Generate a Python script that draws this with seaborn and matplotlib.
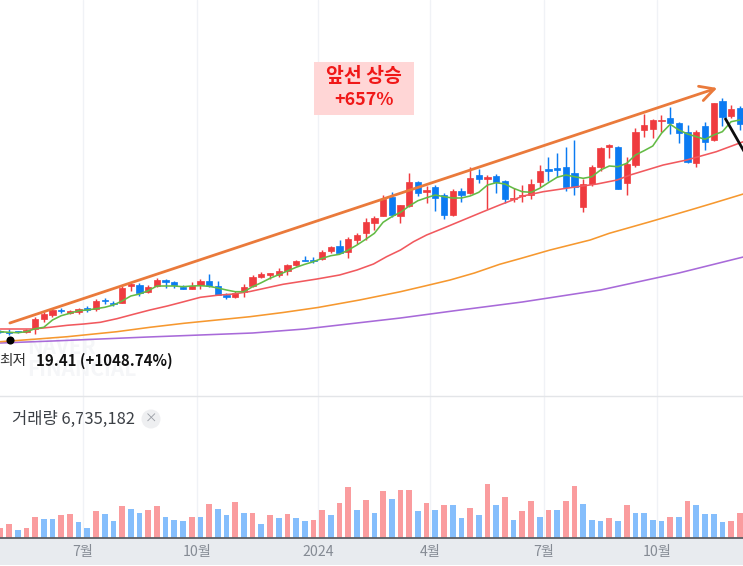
import numpy as np
import pandas as pd
import seaborn as sns
import matplotlib
matplotlib.use("Agg")
import matplotlib.pyplot as plt
from matplotlib.patches import Rectangle, Ellipse

# Weekly candles: opening, closing, high and low level of each week
opens = [69,67.7,68.7,68.3,70.7,81,85.3,90,87.3,88.3,91.7,91,100,97.3,96.7,114.3,115,108.3,114,120,117.7,112.7,111,115,118.7,114.3,104.7,103.3,108.3,
         114,123.3,125.3,124.7,128.7,135,139.7,140,140.7,149,154,147.7,160,167.3,177.3,184,202.7,184,194,217.7,207.7,213.3,205,185,209.3,206.7,224.7,220.7,
         224.3,218.7,201,203.7,205,218,230.7,231.7,232.7,227,192.7,216,232.7,253.3,252.7,216.7,234.7,270,271.3,279,282.3,276.7,268.3,236.7,274,260,299.3,284,292]
closes = [68,67,67.7,70,81,86.3,89.7,89,88.3,91,90,99.3,98.7,96,111.7,116,106.7,113.3,120,118.3,115,111.3,114.3,119,114.3,105.3,102.7,107.3,113.3,
          123.3,126.3,126.3,128.7,134.7,138.7,139,139,148.3,153,147.3,161,165.3,177.7,182.3,201,185,194.7,217.7,206.7,210,202.3,185,209,205,221.7,220.7,223.3,
          217.7,201,202,205,216,228.7,229.3,229.7,213.3,213.3,216,232.7,251.7,255.3,211,235.7,268,275.3,279.7,280,276.7,267.3,237.7,268.3,258.3,296.7,282.7,290.7,276]
highs = [70,70.7,69.5,70.7,83.3,88.3,91.7,92.3,90,92.3,94,100.7,101.7,98.7,114,117.3,116.7,114.7,122.3,120.7,119.3,115,117.7,120.7,126,119,106.7,109.3,115.7,
         125,127.7,127.3,131.7,135.7,140,144,143.3,149.7,154,159.7,163.3,166.7,181.7,184,205,207.7,195.3,227.3,219,214,215,206.7,211.3,212.3,233.3,231,224.7,
         226,220,211.7,214.7,220.7,235,242.7,246.7,252.7,260,221.3,235,252.7,256,254,242.7,272.3,286,281.3,285,293.3,278,275,270,278,297.3,301.7,295,294]
lows = [67,65,67,67.3,65.7,78.3,83.3,86.7,86,85.7,88.3,89.3,96,94,96.7,109,104,107.3,113.3,111.7,111.7,110.7,110.7,110.7,113.3,104.7,100.7,102.3,103.3,
        113.3,122.3,120.7,123.3,125,134,139,136.7,140,147.3,146.7,141.7,156,160,170,184,182.7,177.3,193.3,204,196.7,189.3,181.3,184,198.3,206,216.7,190.7,
        206.7,196.7,198.3,198.3,200.7,213.3,219.3,223.3,209.3,205,188.3,214,229,241.7,210.7,205,233.3,262.7,261.7,267.7,265.7,257.3,237.3,233.3,250,259,274,282.3,270]

# Short moving average, one value per week
ma5 = [68.3,67.7,67.3,68.3,71.3,72.7,80,84.3,86.7,89.3,90,91.3,92.7,95,99,104,106,109.3,114,114,114,113.3,114,114.3,113.7,112,110,108.3,108.3,
       113.3,117.3,121.7,125.3,129,132.7,135.7,138.3,141.7,144.3,145.7,150,155,160.7,166.7,177.7,183.3,187.7,194,199.3,202.3,205,203.3,202,202,204,207.7,215,217.3,
       216,211.7,208.3,207.7,211.7,217.3,222.7,225,223.3,221.7,223.3,230,234,233.3,236.7,245,249.3,254,266.7,275.7,270,266,263.3,260.7,265,268.3,278.3,280]

# Longer moving averages, sampled at the listed weeks
ma20_wk = [0,3.8,5.7,7.7,9.6,11.5,13.4,15.3,17.2,19.2,21.1,23,24.9,26.8,28.7,32.5,36.4,39,41,42.9,44.4,46,47.5,49,50.9,53.2,55.5,57.4,60.1,62.4,66.3,68.6,70.9,72.4,74.3,76.2,78.9,82.3,85.4]
ma20 = [71,71,72.7,74.7,76,77.7,81.3,85.7,90,94,98.3,102.7,104.7,106,108.5,115.7,121,125,130,136,143.3,150,158.3,165,171.7,180,188.3,195,204,208.3,213.3,216,220,225,230,235,240,248.3,258.3]
ma60_wk = [0,3.8,7.7,13.4,17.2,21.1,24.9,28.7,32.5,36.5,41.3,46,48.8,51.7,54.5,57.4,60,63.2,67.8,70,74.7,79.3,82,85.4]
ma60 = [58.3,60.7,63.3,68.3,72.7,76.7,80,83.3,87.5,92.5,100,108.3,114,120,127,135.7,142,150,160,166.7,178.3,190,197,206]
ma120_wk = [0,6,11.5,17,23,29,35,40,46,52,60,69,78,85.4]
ma120 = [57,59,61,63,65,67,71,76,82,89,98,110,127,143]

# Weekly traded volume
volume = [10,14,8,10,21,19,19,23,24,16,10,27,24,17,32,29,25,28,32,21,18,17,21,21,34,29,23,36,25,
          25,14,23,20,24,20,17,18,28,23,35,51,28,38,25,47,39,48,48,27,35,28,33,33,20,30,23,54,
          33,41,18,27,37,21,28,28,37,52,34,18,17,20,17,33,25,25,18,17,21,21,37,33,24,24,16,17,25]
volume_dir = ["up","up","down","up","up","down","down","up","up","down","down","up","down","down","up","down","down","up","up","down","down","down","up","down","up","down","down","up","down",
              "up","down","up","down","up","down","down","up","up","down","up","up","down","up","down","up","down","up","up","down","up","down","up","down","down","up","down","up",
              "down","up","down","up","up","down","up","down","up","up","down","down","down","up","down","up","down","down","down","down","up","down","up","down","down","down","down","up","up"]

tick_weeks = [9.5,22.6,36.5,49.4,62.5,75.5]
tick_labels = ["7월","10월","2024","4월","7월","10월"]

RED, BLUE = "#EF3B3F", "#0B7BF2"
W, H = 743, 566
FONT = ["Noto Sans CJK KR", "DejaVu Sans"]

sns.set_theme(style="white")
plt.rcParams["font.family"] = FONT

fig = plt.figure(figsize=(W / 100, H / 100), dpi=100, facecolor="white")
def px_axes(x0, y0, x1, y1):
    return fig.add_axes([x0 / W, 1 - y1 / H, (x1 - x0) / W, (y1 - y0) / H])

# Grey date band under the volume panel
fig.add_artist(Rectangle((0, 1 - 565 / H), 1, 27 / H, transform=fig.transFigure,
                         facecolor="#E8EBEF", edgecolor="none", zorder=-1))

ax = px_axes(0, 0, W, 396)
vol_ax = px_axes(0, 396, W, 537.8)
xlim = (-0.0345, 85.37)

def px_text(x, y, s, **kw):
    return ax.text(x / W, 1 - y / H, s, transform=fig.transFigure, va="center", clip_on=False, **kw)

# Faint provider mark sits underneath the marks
px_text(27, 348, "NAVER", ha="left", fontsize=15, color="#F5F6F8", fontweight="bold", zorder=0.5)
px_text(27, 370, "FINANCIAL", ha="left", fontsize=15, color="#F5F6F8", fontweight="bold", zorder=0.5)

# Candles
weeks = np.arange(len(closes))
frame = pd.DataFrame({"week": weeks, "open": opens, "close": closes, "high": highs, "low": lows})
frame["color"] = np.where(frame["close"] >= frame["open"], RED, BLUE)
ax.vlines(frame["week"], frame["low"], frame["high"], colors=frame["color"], lw=1.05, zorder=3)
ax.bar(frame["week"], (frame["close"] - frame["open"]).abs().clip(lower=1.5),
       bottom=frame[["open", "close"]].min(axis=1), width=0.72, color=frame["color"],
       edgecolor=frame["color"], linewidth=0.5, zorder=3)

# Moving averages
sns.lineplot(x=ma120_wk, y=ma120, ax=ax, color="#A86AD9", lw=1.15, zorder=4)
sns.lineplot(x=ma60_wk, y=ma60, ax=ax, color="#F6982F", lw=1.15, zorder=4)
sns.lineplot(x=ma20_wk, y=ma20, ax=ax, color="#F1595E", lw=1.15, zorder=4)
sns.lineplot(x=weeks, y=ma5, ax=ax, color="#63BB45", lw=1.15, zorder=5)

ax.set_xlim(*xlim)
ax.set_ylim(4, 400)

# Hand-drawn trend arrows
ax.annotate("", xy=(82.4, 312), xytext=(1.1, 77),
            arrowprops=dict(arrowstyle="->,head_length=0.85,head_width=0.45", color="#EA7A3B", lw=2.0,
                            shrinkA=0, shrinkB=0), zorder=6)
ax.plot([83.3, 85.6], [282, 247], color="#0D0D0D", lw=2.0, zorder=6, solid_capstyle="butt")

# Lowest-price marker
ax.scatter([1.1], [60], s=34, color="black", zorder=7, linewidths=0)

# Quarter grid lines in both panels
for a in (ax, vol_ax):
    for t in tick_weeks:
        a.axvline(t, color="#F0F2F6", lw=1, zorder=0)
    a.grid(False)

# Volume bars
vol_df = pd.DataFrame({"week": weeks, "volume": volume, "dir": volume_dir})
sns.barplot(data=vol_df, x="week", y="volume", hue="dir", native_scale=True, dodge=False, legend=False,
            palette={"up": "#FA9C9E", "down": "#85BEFC"}, saturation=1, width=0.66, ax=vol_ax, zorder=2,
            linewidth=0)
vol_ax.set_xlim(*xlim)
vol_ax.set_ylim(0, 141.8)
vol_ax.set_xticks(tick_weeks)
vol_ax.set_xticklabels(tick_labels, fontsize=10.2, color="#858B94")
vol_ax.tick_params(axis="x", length=0, pad=5.5)
vol_ax.set_yticks([])
vol_ax.set_xlabel("")
vol_ax.set_ylabel("")
vol_ax.patch.set_alpha(0)

ax.set_xticks([])
ax.set_yticks([])
ax.set_xlabel("")
ax.set_ylabel("")
ax.patch.set_alpha(0)
sns.despine(fig=fig, left=True, right=True, top=True, bottom=True)
vol_ax.spines["bottom"].set_visible(True)
vol_ax.spines["bottom"].set_color("#5C5F64")
vol_ax.spines["bottom"].set_linewidth(1.3)
vol_ax.spines["top"].set_visible(True)
vol_ax.spines["top"].set_color("#E3E5E8")
vol_ax.spines["top"].set_linewidth(1)

# Annotation box
ax.add_artist(Rectangle((314 / W, 1 - 115 / H), 100 / W, 53 / H, transform=fig.transFigure,
                        facecolor="#FFD6D6", edgecolor="none", zorder=1, clip_on=False))
px_text(364, 76, "앞선 상승", ha="center", fontsize=14, color="#F01818", fontweight="bold", zorder=8)
px_text(364, 100, "+657%", ha="center", fontsize=12.8, color="#F01818", fontweight="bold", zorder=8)

# Lowest-price caption and volume readout
px_text(26, 361, "최저", ha="right", fontsize=10.6, color="#333333", zorder=8)
px_text(36, 361, "19.41 (+1048.74%)", ha="left", fontsize=10.8, color="#111111", fontweight="bold", zorder=8)
px_text(12, 419, "거래량 6,735,182", ha="left", fontsize=11.9, color="#3C4046", zorder=8)
ax.add_artist(Ellipse((151 / W, 1 - 419 / H), 19 / W, 19 / H, transform=fig.transFigure,
                      facecolor="#EEEFF1", edgecolor="none", zorder=1, clip_on=False))
px_text(151, 419, "×", ha="center", fontsize=9, color="#9A9EA5", zorder=8)

fig.savefig("out.png", dpi=100)
